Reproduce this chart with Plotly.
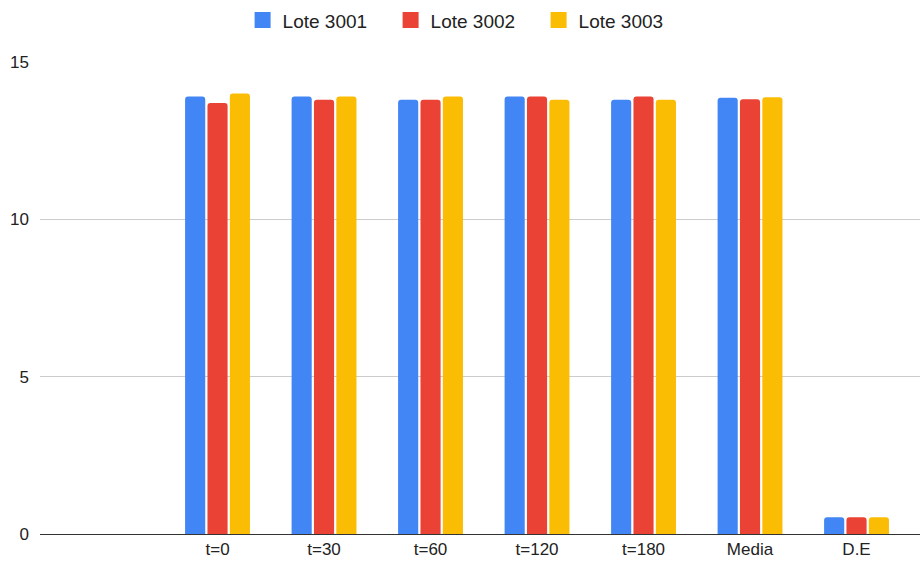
import plotly.graph_objects as go

# Sample times plus summary rows
categories = ["t=0", "t=30", "t=60", "t=120", "t=180", "Media", "D.E"]
lote_3001 = [13.9, 13.9, 13.8, 13.9, 13.8, 13.86, 0.53]
lote_3002 = [13.7, 13.8, 13.8, 13.9, 13.9, 13.82, 0.53]
lote_3003 = [14.0, 13.9, 13.9, 13.8, 13.8, 13.88, 0.53]
series_names = ["Lote 3001", "Lote 3002", "Lote 3003"]
colors = ["#4285F4", "#EA4335", "#FBBC04"]
y_ticks = [0, 5, 10, 15]

font_family = "Arial, 'Liberation Sans', sans-serif"

fig = go.Figure()
for name, values, color in zip(series_names, [lote_3001, lote_3002, lote_3003], colors):
    fig.add_trace(go.Bar(
        x=categories,
        y=values,
        name=name,
        legendgroup=name,
        showlegend=False,
        marker=dict(color=color, line=dict(width=0), cornerradius=3),
    ))
    # Legend entry with a larger square swatch
    fig.add_trace(go.Scatter(
        x=[None],
        y=[None],
        mode="markers",
        name=name,
        legendgroup=name,
        marker=dict(symbol="square", size=16, color=color),
    ))

fig.update_layout(
    width=920,
    height=562,
    barmode="group",
    bargap=0.37,
    bargroupgap=0.1,
    plot_bgcolor="white",
    paper_bgcolor="white",
    margin=dict(l=40, r=0, t=62, b=28),
    font=dict(family=font_family, size=17, color="#222222"),
    legend=dict(
        orientation="h",
        xref="container",
        yref="container",
        x=0.505,
        xanchor="center",
        y=0.964,
        yanchor="middle",
        font=dict(size=19, color="#222222"),
        entrywidth=103,
        entrywidthmode="pixels",
    ),
    xaxis=dict(
        type="category",
        range=[-1.667, 6.596],
        showgrid=False,
        showline=True,
        linecolor="#333333",
        linewidth=1,
        ticks="",
        tickfont=dict(size=17, color="#222222"),
        fixedrange=True,
    ),
    yaxis=dict(
        range=[0, 15],
        tickvals=y_ticks,
        showgrid=True,
        gridcolor="#cccccc",
        gridwidth=1,
        zeroline=False,
        showline=False,
        ticks="",
        ticklabelstandoff=10,
        tickfont=dict(size=17, color="#222222"),
        fixedrange=True,
    ),
)

fig.write_html("out.html")
